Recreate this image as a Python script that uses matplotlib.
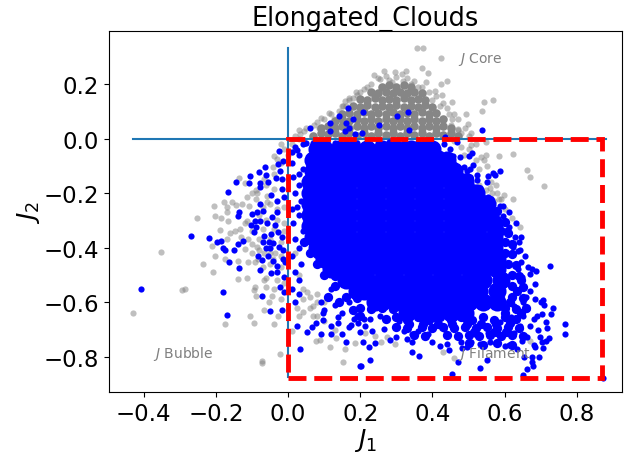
import matplotlib
matplotlib.use("Agg")
import matplotlib.pyplot as plt
from matplotlib.patches import Rectangle

title = "Elongated_Clouds"
xticks = [-0.4, -0.2, 0.0, 0.2, 0.4, 0.6, 0.8]
yticks = [0.2, 0.0, -0.2, -0.4, -0.6, -0.8]

# scattered grey points
gray_x = [.358, .375, .425, .37, .388, .327, .267, .238, .297, .315, .255, .381, .441, .424, .317, .287, .361, .407,
          .427, .453, .543, .567, .537, .493, .446, .455, .499, .507, .472, .507, .549, .624, .585, .549, .534, .544,
          .486, .662, .669, .709, .576, .561, .549, .566, .578, .597, .622, .583, .187, .168, .159, .152, .113, .092,
          .071, .043, .034, .085, .126, -.04, -.03, -.012, -.041, -.135, -.118, -.067, -.114, -.1, -.086, -.204,
          -.177, -.155, -.144, -.127, -.109, -.169, -.058, -.058, -.04, -.251, -.201, -.187, -.166, -.17, -.188,
          -.16, -.211, -.202, -.175, -.14, -.353, -.237, -.207, -.14, -.114, -.294, -.286, -.43, -.105, -.174,
          -.094, -.04, -.027, -.068, -.091, -.093, -.09, -.068, -.062, -.045, -.052, -.02, -.021, -.071, -.071,
          .011, .077, .089, .116, .133, .158, .151, .186, .024, .042, .07, .081, .07, .052, .079, -.114, -.133,
          -.147, -.119, -.1, -.087, -.11, -.091, -.082, -.068, -.036, -.041, -.17, .643, .428, .459, .295, .257,
          .241, .273, .213, .236, .67, .012, -.02, .02]
gray_y = [.33, .332, .294, .26, .24, .248, .248, .234, .244, .236, .217, .208, .209, .199, .209, .208, .19, .175,
          .159, .134, .134, .142, .1, .088, .089, .073, .053, .022, .034, -.023, -.012, -.056, -.063, -.059, -.066,
          -.079, -.061, -.114, -.14, -.175, -.17, -.161, -.19, -.198, -.198, -.206, -.222, -.222, .171, .15, .138,
          .12, .092, .074, .049, .028, .016, .04, .07, -.063, -.076, -.039, -.103, -.143, -.164, -.149, -.216, -.2,
          -.198, -.248, -.234, -.234, -.242, -.241, -.247, -.25, -.21, -.234, -.186, -.291, -.285, -.291, -.303,
          -.268, -.335, -.346, -.395, -.429, -.441, -.45, -.417, -.459, -.49, -.515, -.511, -.557, -.553, -.641,
          -.651, -.68, -.677, -.678, -.649, -.628, -.545, -.557, -.576, -.52, -.545, -.576, -.6, -.59, -.791, -.824,
          -.816, -.704, -.742, -.737, -.765, -.731, -.771, -.82, -.75, -.62, -.635, -.652, -.65, -.613, -.564, -.57,
          -.301, -.332, -.338, -.405, -.387, -.399, -.453, -.453, -.441, -.418, -.418, -.441, -.369, -.325, -.781,
          -.804, -.754, -.747, -.725, -.726, -.713, -.625, -.741, -.05, -.02, .01]

# more grey where the cloud thickens, behind the blue on the left and right
gray_fill = [(-.09, -.22), (-.07, -.25), (-.05, -.24), (-.03, -.26), (-.01, -.25), (-.08, -.28), (-.06, -.3),
             (-.03, -.3), (-.01, -.31), (-.12, -.31), (-.1, -.34), (-.07, -.33), (-.04, -.33), (-.01, -.34),
             (-.13, -.36), (-.11, -.37), (-.08, -.37), (-.05, -.37), (-.02, -.38), (-.1, -.42), (-.08, -.41),
             (-.05, -.42), (-.02, -.43), (-.07, -.47), (-.05, -.46), (-.02, -.47), (-.06, -.51), (-.03, -.52),
             (-.01, -.53), (-.04, -.55), (.02, -.42), (.03, -.5), (.04, -.55), (.06, -.58), (.08, -.6), (.1, -.6),
             (.04, -.59), (.06, -.62), (.1, -.67), (.13, -.7), (.03, -.65), (.52, -.02), (.5, -.04), (.52, -.08),
             (.53, -.11), (.55, -.1), (.53, -.17), (.56, -.18), (.59, -.22), (.57, -.23), (.6, -.26), (.62, -.29),
             (.46, -.01), (.48, -.03), (.48, .02), (.01, -.02), (.03, .0), (.0, -.06), (-.02, -.09), (-.04, -.13),
             (-.06, -.17), (-.09, -.19), (.03, .03), (.05, .04), (.08, .06), (.1, .07), (.12, .09), (.15, .12),
             (.17, .14), (.19, .16), (.21, .18), (.23, .2), (.25, .22), (.28, .215), (.3, .225), (.33, .22), (.35, .21),
             (.37, .19), (.39, .17), (.41, .155), (.43, .13), (.44, .11), (.46, .09), (.47, .07), (.49, .04), (.14, .1),
             (.16, .12), (.18, .15), (.2, .17), (.22, .19), (.27, .23), (.34, .2), (.4, .14), (.42, .12), (.45, .05),
             (.5, .01), (.47, .03), (.11, .05), (.09, .04)]
gray_fill_x = [p[0] for p in gray_fill]
gray_fill_y = [p[1] for p in gray_fill]

# dense grey part above the blue, too packed to tell single points apart
gray_core = [(.07, .01), (.09, .02), (.11, .015), (.13, .02), (.15, .01), (.17, .02), (.19, .01), (.21, .02), (.23, .01),
             (.25, .02), (.27, .012), (.29, .02), (.31, .01), (.33, .02), (.35, .012), (.37, .02), (.39, .01), (.41, .02),
             (.43, .012), (.45, .02), (.47, .01), (.09, .04), (.11, .045), (.13, .04), (.15, .045), (.17, .04), (.19, .047),
             (.21, .04), (.23, .045), (.25, .04), (.27, .047), (.29, .04), (.31, .045), (.33, .04), (.35, .047), (.37, .04),
             (.39, .045), (.41, .04), (.43, .045), (.45, .04), (.13, .065), (.15, .07), (.17, .065), (.19, .072),
             (.21, .065), (.23, .07), (.25, .065), (.27, .072), (.29, .065), (.31, .07), (.33, .065), (.35, .072),
             (.37, .065), (.39, .07), (.41, .065), (.43, .07), (.15, .09), (.17, .095), (.19, .09), (.21, .097),
             (.23, .09), (.25, .095), (.27, .09), (.29, .097), (.31, .09), (.33, .095), (.35, .09), (.37, .097),
             (.39, .09), (.41, .095), (.18, .12), (.2, .115), (.22, .122), (.24, .115), (.26, .12), (.28, .115),
             (.3, .122), (.32, .115), (.34, .12), (.36, .115), (.38, .122), (.4, .115), (.2, .145), (.22, .14),
             (.24, .147), (.26, .14), (.28, .145), (.3, .14), (.32, .147), (.34, .14), (.36, .145), (.38, .14),
             (.23, .17), (.25, .165), (.27, .172), (.29, .165), (.31, .17), (.33, .165), (.35, .172), (.37, .165),
             (.26, .19), (.28, .195), (.3, .19), (.32, .195), (.34, .19)]
gray_core_x = [p[0] for p in gray_core]
gray_core_y = [p[1] for p in gray_core]

# single blue points along the edge of the cloud, (J1, J2) by region
blue_top = [(.06, .04), (.115, .057), (.14, .083), (.165, .112), (.16, .057), (.18, .07), (.168, .04), (.157, .027),
            (.115, .027), (.185, .015), (.207, .098), (.301, .084), (.332, .098), (.253, .05), (.334, .031), (.204, .02),
            (.434, .007), (.537, .031)]
blue_left = [(-.024, -.045), (-.064, -.103), (-.081, -.121), (-.106, -.138), (-.062, -.133), (-.107, -.164),
             (-.143, -.16), (-.165, -.195), (-.077, -.164), (-.055, -.158), (-.077, -.178), (-.033, -.145),
             (-.017, -.149), (-.018, -.186), (-.047, -.206), (-.03, -.228), (-.012, -.214), (-.078, -.239),
             (-.021, -.118), (-.028, -.092), (-.015, -.084), (.025, -.042), (.047, -.018),
             (-.135, -.27), (-.14, -.285), (-.1, -.277), (-.085, -.27), (-.07, -.265), (-.045, -.289), (-.031, -.27),
             (-.091, -.301), (-.077, -.301), (-.103, -.317), (-.09, -.323), (-.059, -.31), (-.036, -.317),
             (-.093, -.344), (-.048, -.35), (-.027, -.344), (-.066, -.359), (-.017, -.362), (-.07, -.38), (-.054, -.38),
             (-.041, -.383), (-.025, -.396), (-.062, -.402), (-.05, -.402), (-.015, -.41), (-.084, -.432),
             (-.071, -.445), (-.056, -.432), (-.041, -.449), (-.03, -.468), (-.015, -.44), (-.008, -.454),
             (-.408, -.552), (-.268, -.359), (-.22, -.366), (-.198, -.378), (-.187, -.377), (-.181, -.402),
             (-.175, -.41), (-.149, -.41), (-.14, -.388), (-.124, -.374), (-.163, -.451), (-.137, -.473),
             (-.181, -.564), (-.169, -.647), (-.078, -.483), (-.048, -.492), (-.031, -.489), (-.012, -.509),
             (-.021, -.543), (-.011, -.564), (-.071, -.578), (-.049, -.632), (-.016, -.627),
             (.02, -.03), (.03, -.06), (.01, -.09), (.04, -.11), (.015, -.14), (.03, -.17), (.02, -.2), (.035, -.23),
             (.01, -.26), (.03, -.28), (.015, -.31), (.04, -.34), (.02, -.37), (.03, -.4), (.01, -.43), (.035, -.46),
             (.02, -.49), (.03, -.52), (.012, -.55), (.03, -.57), (.02, -.6), (.01, -.05), (.03, -.13), (.04, -.02),
             (.025, -.25), (.05, -.015), (.07, -.018), (.09, -.012), (.11, -.02), (.13, -.015), (.16, -.012),
             (.19, -.018), (.22, -.012), (.25, -.015), (.28, -.012), (.32, -.015), (.36, -.012)]
blue_bottom = [(.024, -.686), (.053, -.709), (.065, -.691), (.078, -.676), (.09, -.716), (.12, -.686), (.119, -.718),
               (.15, -.718), (.16, -.747), (.034, -.77), (.138, -.676), (.173, -.684), (.097, -.638), (.097, -.664),
               (.137, -.655), (.184, -.662), (.195, -.675), (.198, -.708), (.2, -.832), (.12, -.55), (.11, -.58),
               (.09, -.6), (.10, -.63), (.13, -.61), (.15, -.64), (.17, -.6), (.19, -.65), (.21, -.66), (.17, -.69),
               (.55, -.81), (.531, -.84), (.47, -.818), (.455, -.863), (.364, -.796), (.342, -.783), (.227, -.811),
               (.201, -.832), (.223, -.765), (.241, -.75), (.207, -.744), (.232, -.704), (.267, -.698), (.283, -.737),
               (.3, -.728), (.33, -.733), (.343, -.744), (.342, -.716), (.322, -.706), (.398, -.744), (.421, -.759),
               (.447, -.775), (.439, -.753), (.479, -.747), (.481, -.769), (.495, -.765), (.508, -.745), (.532, -.753),
               (.56, -.747), (.579, -.747), (.6, -.759), (.611, -.757), (.633, -.771), (.647, -.741), (.661, -.729),
               (.625, -.711), (.643, -.686), (.67, -.686), (.68, -.662), (.651, -.649), (.618, -.655), (.588, -.674),
               (.569, -.704), (.555, -.713), (.518, -.717), (.5, -.723), (.432, -.698), (.389, -.716), (.361, -.704),
               (.308, -.668), (.255, -.649), (.227, -.66), (.213, -.686), (.661, -.625), (.689, -.65), (.651, -.6),
               (.625, -.612), (.598, -.625), (.871, -.878)]
blue_right = [(.467, -.011), (.431, -.021), (.449, -.039), (.458, -.063), (.477, -.068), (.5, -.063), (.509, -.054),
              (.512, -.096), (.486, -.103), (.495, -.118), (.504, -.112), (.472, -.132), (.524, -.133), (.524, -.151),
              (.555, -.137), (.567, -.127), (.574, -.133), (.587, -.118), (.551, -.159), (.5, -.164), (.537, -.21),
              (.555, -.214), (.587, -.247), (.595, -.247), (.476, -.173), (.504, -.198), (.611, -.268), (.596, -.285),
              (.63, -.311), (.613, -.325), (.606, -.337), (.628, -.36), (.644, -.362), (.639, -.38), (.601, -.374),
              (.624, -.399), (.636, -.414), (.643, -.407), (.656, -.429), (.645, -.451), (.726, -.466), (.666, -.47),
              (.675, -.478), (.687, -.487), (.67, -.497), (.636, -.478), (.649, -.509), (.683, -.535), (.67, -.558),
              (.658, -.582), (.684, -.588), (.701, -.598), (.707, -.591), (.71, -.61), (.733, -.62), (.728, -.642),
              (.703, -.643), (.714, -.674), (.717, -.695), (.767, -.681), (.767, -.718), (.693, -.7), (.723, -.732),
              (.714, -.742), (.699, -.729), (.703, -.744), (.705, -.768), (.68, -.757), (.683, -.763), (.696, -.8),
              (.653, -.8), (.675, -.801), (.677, -.82), (.679, -.835), (.661, -.843), (.65, -.866)]
blue_x = [p[0] for p in blue_top + blue_left + blue_bottom + blue_right]
blue_y = [p[1] for p in blue_top + blue_left + blue_bottom + blue_right]

# thick rim between the solid middle and the single points
blue_rim = [(.27, -.66), (.3, -.655), (.33, -.665), (.36, -.655), (.39, -.665), (.42, -.655), (.45, -.665), (.48, -.655),
            (.51, -.665), (.54, -.655), (.57, -.665), (.6, -.655), (.63, -.66), (.3, -.69), (.33, -.695), (.37, -.69),
            (.4, -.695), (.43, -.69), (.46, -.695), (.49, -.69), (.52, -.695), (.55, -.69), (.58, -.695), (.61, -.69),
            (.64, -.695), (.35, -.72), (.38, -.725), (.44, -.72), (.47, -.725), (.5, -.72), (.53, -.725), (.56, -.72),
            (.59, -.725), (.62, -.72), (.65, -.725), (.5, -.75), (.54, -.755), (.58, -.75), (.62, -.755),
            (.2, -.62), (.23, -.625), (.26, -.62), (.29, -.625), (.6, -.62), (.63, -.625), (.66, -.62), (.16, -.58),
            (.19, -.585), (.62, -.58), (.65, -.585), (.13, -.54), (.62, -.54), (.65, -.545), (.1, -.5), (.13, -.505),
            (.62, -.5), (.64, -.505), (.08, -.46), (.11, -.465), (.61, -.46), (.63, -.465), (.06, -.42), (.08, -.425),
            (.6, -.42), (.62, -.425), (.045, -.38), (.07, -.385), (.6, -.38), (.62, -.385), (.59, -.34), (.61, -.345),
            (.58, -.3), (.6, -.305), (.56, -.26), (.58, -.265), (.54, -.22), (.56, -.225), (.51, -.18), (.53, -.185),
            (.48, -.14), (.5, -.145), (.46, -.1), (.42, -.06), (.2, -.65), (.18, -.63), (.14, -.6), (.11, -.58),
            (.615, -.6), (.635, -.56), (.645, -.52), (.6, -.64), (.645, -.64), (.615, -.675), (.575, -.68), (.535, -.68),
            (.495, -.68), (.455, -.68), (.415, -.68), (.375, -.68), (.335, -.68), (.515, -.71), (.575, -.71), (.605, -.71)]
blue_rim_x = [p[0] for p in blue_rim]
blue_rim_y = [p[1] for p in blue_rim]

# solid middle of the blue cloud: single points cannot be told apart here,
# so it is sampled coarsely and drawn with a bigger marker
blue_core_x = [.08, .10, .14, .18, .22, .26, .30, .34, .38, .40,
               .07, .09, .13, .17, .21, .25, .29, .33, .37, .41, .44,
               .07, .10, .14, .18, .22, .26, .30, .34, .38, .42, .46,
               .06, .09, .13, .17, .21, .25, .29, .33, .37, .41, .45, .49,
               .06, .09, .13, .17, .21, .25, .29, .33, .37, .41, .45, .49, .52,
               .06, .09, .13, .17, .21, .25, .29, .33, .37, .41, .45, .49, .53, .55,
               .06, .09, .13, .17, .21, .25, .29, .33, .37, .41, .45, .49, .53, .56,
               .06, .09, .13, .17, .21, .25, .29, .33, .37, .41, .45, .49, .53, .57,
               .07, .09, .13, .17, .21, .25, .29, .33, .37, .41, .45, .49, .53, .57,
               .08, .10, .14, .18, .22, .26, .30, .34, .38, .42, .46, .50, .54, .57,
               .10, .12, .16, .20, .24, .28, .32, .36, .40, .44, .48, .52, .56, .58,
               .12, .14, .18, .22, .26, .30, .34, .38, .42, .46, .50, .54, .58,
               .16, .18, .22, .26, .30, .34, .38, .42, .46, .50, .54, .59,
               .19, .21, .25, .29, .33, .37, .41, .45, .49, .53, .58,
               .24, .26, .30, .34, .38, .42, .46, .50, .54, .58,
               .33, .37, .41, .45, .49]
blue_core_y = [-.04] * 10 + [-.08] * 11 + [-.12] * 11 + [-.16] * 12 + [-.20] * 13 + [-.24] * 14 + [-.28] * 14 \
    + [-.32] * 14 + [-.36] * 14 + [-.40] * 14 + [-.44] * 14 + [-.48] * 13 + [-.52] * 12 + [-.56] * 11 \
    + [-.60] * 10 + [-.64] * 5

# annotations and reference lines
labels = ["$J$ Core", "$J$ Bubble", "$J$ Filament"]
label_x = [0.472, -0.373, 0.472]
label_y = [0.28, -0.80, -0.80]
hline_x = [-0.43, 0.88]
vline_y = [-0.875, 0.33]
box_x, box_y = 0.0, -0.877
box_w, box_h = 0.87, 0.877

fig = plt.figure(figsize=(6.24, 4.64), dpi=100)
ax = fig.add_axes([109 / 624, 1 - 393 / 464, 513 / 624, 361 / 464])

ax.scatter(gray_x, gray_y, s=20, color="gray", alpha=0.5, linewidths=0, zorder=1)
ax.scatter(gray_fill_x, gray_fill_y, s=20, color="gray", alpha=0.5, linewidths=0, zorder=1)
ax.scatter(gray_core_x, gray_core_y, s=38, color="#868686", linewidths=0, zorder=1.5)
ax.plot(hline_x, [0, 0], color="C0", linewidth=1.5, zorder=1.8)
ax.plot([0, 0], vline_y, color="C0", linewidth=1.5, zorder=1.8)
ax.scatter(blue_core_x, blue_core_y, s=170, color="blue", linewidths=0, zorder=2)
ax.scatter(blue_rim_x, blue_rim_y, s=45, color="blue", linewidths=0, zorder=2)
ax.scatter(blue_x, blue_y, s=20, color="blue", linewidths=0, zorder=2)

ax.add_patch(Rectangle((box_x, box_y), box_w, box_h, fill=False, edgecolor="red",
                       linestyle="--", linewidth=3.5, zorder=3))

for txt, tx, ty in zip(labels, label_x, label_y):
    ax.text(tx, ty, txt, fontsize=10, color="gray", zorder=4)

ax.set_xlim(-0.496, 0.925)
ax.set_ylim(-0.929, 0.394)
ax.set_xticks(xticks)
ax.set_yticks(yticks)
ax.tick_params(labelsize=16.5)
ax.set_xlabel("$J_1$", fontsize=18, labelpad=1)
ax.set_ylabel("$J_2$", fontsize=18, labelpad=1)
ax.set_title(title, fontsize=18.4, pad=4)

plt.savefig("out.png", dpi=100)
